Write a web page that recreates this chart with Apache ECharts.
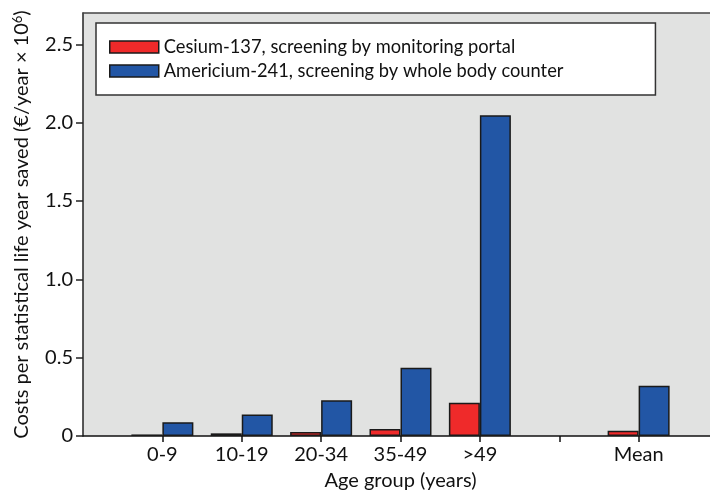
<!DOCTYPE html>
<html>
<head>
<meta charset="utf-8">
<script src="https://cdn.jsdelivr.net/npm/echarts@6/dist/echarts.min.js"></script>
<style>
  html, body { margin: 0; padding: 0; background: #ffffff; }
  #chart { width: 710px; height: 498px; }
</style>
</head>
<body>
<div id="chart"></div>
<script>
// Age groups; blank slots pad the axis ends and separate the "Mean" group
const ageGroups = ['', '0-9', '10-19', '20-34', '35-49', '>49', '', 'Mean', ''];
// Costs per statistical life year saved (€/year × 10^6)
const cesiumCosts = [null, 0.010, 0.017, 0.026, 0.045, 0.212, null, 0.034, null];
const americiumCosts = [null, 0.088, 0.138, 0.228, 0.435, 2.047, null, 0.321, null];
const seriesNames = [
  'Cesium-137, screening by monitoring portal',
  'Americium-241, screening by whole body counter'
];
const yTicks = [0, 0.5, 1.0, 1.5, 2.0, 2.5];

const FONT = 'Lato';
const chart = echarts.init(document.getElementById('chart'), null, { renderer: 'canvas' });

chart.setOption({
  animation: false,
  textStyle: { fontFamily: FONT },
  grid: {
    left: 83, top: 13, width: 635, height: 423,
    outerBoundsMode: 'none',
    containLabel: false,
    show: true,
    backgroundColor: '#e1e2e1',
    borderWidth: 0
  },
  legend: {
    orient: 'vertical',
    left: 96, top: 23,
    padding: [13, 92, 13, 13],
    itemGap: 2,
    itemWidth: 49, itemHeight: 12,
    itemStyle: { borderColor: '#1a1a1a', borderWidth: 1.5 },
    icon: 'rect',
    backgroundColor: '#ffffff',
    borderColor: '#333333',
    borderWidth: 1.5,
    textStyle: { fontFamily: FONT, fontSize: 18.3, color: '#111', lineHeight: 22 },
    data: seriesNames
  },
  xAxis: [
    {
      type: 'category',
      data: ageGroups,
      boundaryGap: false,
      name: 'Age group (years)',
      nameLocation: 'middle',
      nameGap: 35,
      nameTextStyle: { fontFamily: FONT, fontSize: 20, color: '#111' },
      axisLine: { lineStyle: { color: '#111', width: 1.5 } },
      axisTick: {
        length: 6,
        interval: (i) => i > 0 && i < ageGroups.length - 1,
        lineStyle: { color: '#111', width: 1.5 }
      },
      axisLabel: {
        interval: 0,
        margin: 9,
        fontFamily: FONT, fontSize: 20, color: '#111'
      },
      splitLine: { show: false }
    },
    {
      // top frame line of the plot area
      type: 'category',
      data: ageGroups,
      boundaryGap: false,
      position: 'top',
      axisLine: { lineStyle: { color: '#444', width: 1.5 } },
      axisTick: { show: false },
      axisLabel: { show: false },
      splitLine: { show: false }
    }
  ],
  yAxis: {
    type: 'value',
    min: 0, max: 2.7,
    name: '{t|Costs per statistical life year saved (€/year × 10}{s|6}{t|)}',
    nameLocation: 'middle',
    nameRotate: 90,
    nameGap: 51,
    nameTextStyle: {
      rich: {
        t: { fontFamily: FONT, fontSize: 20, color: '#111' },
        s: { fontFamily: FONT, fontSize: 13, color: '#111', verticalAlign: 'top', padding: [0, 0, 8, 0] }
      }
    },
    axisLine: { show: true, lineStyle: { color: '#222', width: 1.5 } },
    axisTick: { show: true, length: 7, customValues: yTicks, lineStyle: { color: '#222', width: 1.5 } },
    axisLabel: {
      customValues: yTicks,
      margin: 10,
      fontFamily: FONT, fontSize: 20, color: '#111',
      formatter: (v) => (v === 0 ? '0' : v.toFixed(1))
    },
    splitLine: { show: false }
  },
  series: [
    {
      name: seriesNames[0],
      type: 'bar',
      data: cesiumCosts,
      barWidth: 31,
      barGap: '0%',
      itemStyle: { color: '#ef2a2a', borderColor: '#1a1a1a', borderWidth: 1.5 }
    },
    {
      name: seriesNames[1],
      type: 'bar',
      data: americiumCosts,
      barWidth: 31,
      barGap: '0%',
      itemStyle: { color: '#2256a5', borderColor: '#1a1a1a', borderWidth: 1.5 }
    }
  ]
});
</script>
</body>
</html>
